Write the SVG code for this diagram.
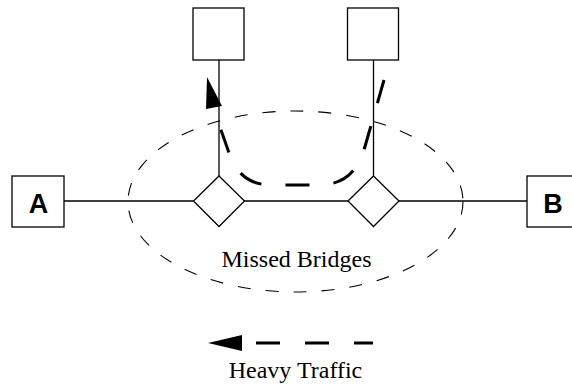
<svg xmlns="http://www.w3.org/2000/svg" width="572" height="384" viewBox="0 0 572 384">
<style>
.box{fill:#fff;stroke:#000;stroke-width:1.3}
.ln{fill:none;stroke:#000;stroke-width:1.3}
.lbl{font-family:"Liberation Sans",Arial,sans-serif;font-weight:bold;font-size:27px;text-anchor:middle}
.txt{font-family:"Liberation Serif","Times New Roman",serif;font-size:24px;text-anchor:middle}
.heavy{fill:none;stroke:#000;stroke-width:3;stroke-dasharray:24 24}
</style>
<rect width="572" height="384" fill="#fff"/>
<g id="connectors">
<line class="ln" x1="64" y1="201" x2="193" y2="201"/>
<line class="ln" x1="244" y1="201" x2="348" y2="201"/>
<line class="ln" x1="399" y1="201" x2="527" y2="201"/>
<line class="ln" x1="219" y1="60" x2="219" y2="176"/>
<line class="ln" x1="373.5" y1="60" x2="373.5" y2="176"/>
</g>
<g id="region">
<ellipse cx="295.5" cy="201.5" rx="167.5" ry="90.5" fill="none" stroke="#000" stroke-width="1.1" stroke-dasharray="13 15"/>
<text class="txt" x="296.5" y="267">Missed Bridges</text>
</g>
<g id="nodeA"><rect class="box" x="12" y="176" width="52" height="51"/><text class="lbl" x="38.5" y="213">A</text></g>
<g id="nodeB"><rect class="box" x="527" y="176" width="52" height="51"/><text class="lbl" x="553" y="213">B</text></g>
<g id="nodeTL"><rect class="box" x="193" y="8" width="51" height="52"/></g>
<g id="nodeTR"><rect class="box" x="347.5" y="8" width="51" height="52"/></g>
<g id="bridgeL"><polygon class="box" points="219,176 244.5,201 219,226.5 193.5,201"/></g>
<g id="bridgeR"><polygon class="box" points="373.5,176 399,201 373.5,226.5 348,201"/></g>
<g id="traffic">
<path class="heavy" d="M 384 80 L 366 143 C 360 165 350 185 318 185 L 272 185 C 245 185 235 170 228 150 L 214 110"/>
<polygon points="207,77 206,109 222,106" fill="#000"/>
</g>
<g id="legend">
<polygon points="208,343 242,335 242,351" fill="#000"/>
<line x1="256" y1="343" x2="373" y2="343" stroke="#000" stroke-width="3" stroke-dasharray="24 25"/>
<text class="txt" x="295.5" y="378">Heavy Traffic</text>
</g>
</svg>
